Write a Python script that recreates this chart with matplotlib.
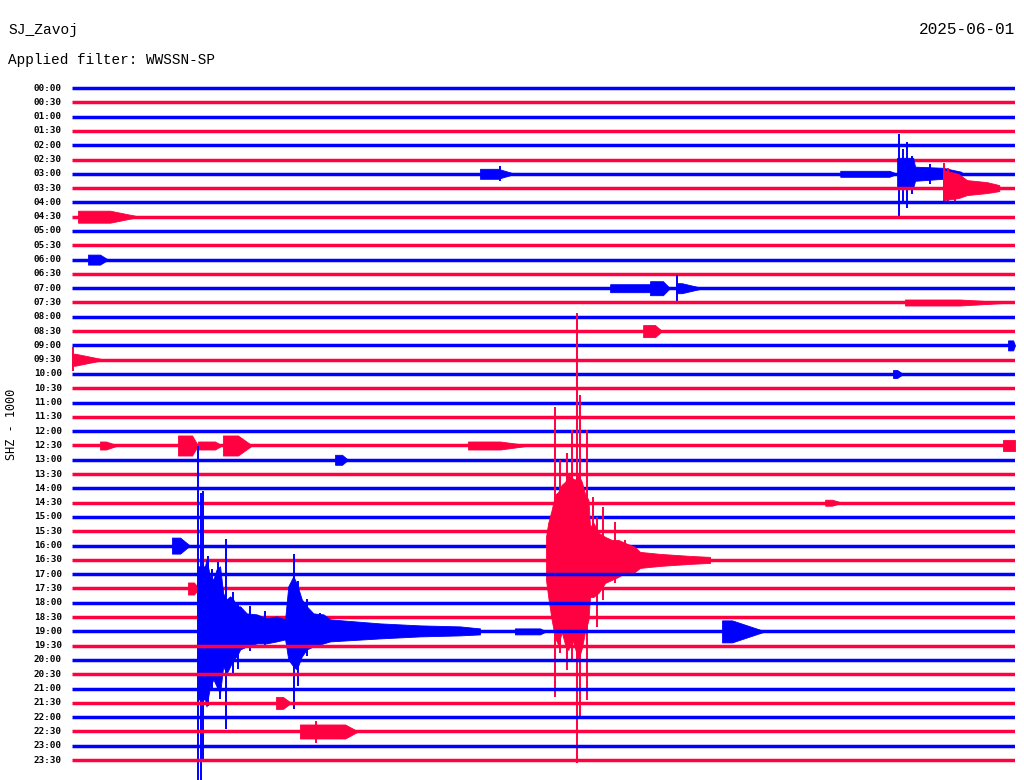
import matplotlib
matplotlib.use("Agg")
import matplotlib.pyplot as plt

# helicorder layout: 48 rows of 30 minutes, row spacing = 1000 counts
row_labels = [f"{h:02d}:{m:02d}" for h in range(24) for m in (0, 30)]
row_colors = ["#0000FF", "#FF0040"]
ROW_SPACING = 1000

station = "SJ_Zavoj"
day = "2025-06-01"
filter_name = "WWSSN-SP"
channel = "SHZ - 1000"

# --- large event on the 19:00 row (minutes, counts above, counts below) ---
blue_row = 38
blue_t = [4.02, 4.23, 4.28, 4.39, 4.50, 4.60, 4.71, 4.81, 4.92, 5.03, 5.13, 5.24, 5.35,
          5.56, 5.88, 6.19, 6.51, 6.78, 6.88, 7.04, 7.15, 7.31, 7.47, 7.68, 8.00, 8.21,
          9.80, 11.07, 12.34, 12.98]
blue_up = [4550, 4550, 5040, 3850, 3640, 4340, 4550, 2660, 2240, 2450, 2240, 1750, 1750,
           1260, 1190, 910, 1050, 840, 3150, 3850, 3360, 2240, 1750, 1260, 1190, 840,
           560, 420, 350, 210]
blue_dn = [4760, 4760, 5250, 3850, 3360, 3850, 4340, 2450, 2940, 2450, 1960, 1750, 1260,
           1050, 840, 840, 700, 560, 1960, 2450, 2660, 1750, 1260, 1050, 840, 700,
           490, 350, 280, 210]

# --- large event on the 16:30 row ---
red_row = 33
red_t = [15.08, 15.15, 15.26, 15.37, 15.47, 15.58, 15.69, 15.79, 15.90, 16.00, 16.11, 16.22,
         16.32, 16.43, 16.48, 16.59, 16.75, 16.96, 17.17, 17.38, 17.59, 17.91, 18.07, 18.71,
         19.66, 20.30]
red_up = [1610, 2590, 3500, 4550, 4760, 5250, 5460, 5950, 5740, 5600, 5950, 5460,
          4620, 4200, 2310, 2590, 1890, 1610, 1400, 1400, 1190, 910, 560, 420,
          280, 210]
red_dn = [1400, 2590, 4200, 5460, 5950, 5040, 5950, 6300, 5460, 6160, 7000, 6160,
          5040, 4200, 2590, 2590, 2310, 1610, 1400, 1190, 910, 840, 560, 420,
          280, 210]

# --- event on the 03:00 row ---
e3_row = 6
e3_t = [26.25, 26.76, 26.82, 27.71, 28.00, 28.30]
e3_up = [1120, 1120, 500, 420, 280, 140]
e3_dn = [980, 980, 490, 350, 280, 140]

# --- event on the 03:30 row ---
e4_row = 7
e4_t = [27.71, 28.20, 28.47, 29.10, 29.50]
e4_up = [1260, 1000, 560, 420, 210]
e4_dn = [840, 700, 490, 350, 210]

# --- single peaks (row, minute, counts above, counts below) ---
spike_row = [38, 38, 38, 38, 38, 38, 38, 38, 38, 38, 38, 38, 38, 38, 38, 38,
             33, 33, 33, 33, 33, 33, 33, 33, 33, 33, 33, 33,
             6, 6, 6, 6, 6, 7, 7, 7, 6, 14, 19, 45]
spike_t = [4.02, 4.10, 4.17, 4.33, 4.45, 4.65, 4.71, 4.90, 5.12, 5.28, 5.66, 6.14, 7.06, 7.19, 7.48, 7.89,
           15.37, 15.53, 15.75, 15.91, 16.07, 16.16, 16.39, 16.58, 16.70, 16.89, 17.28, 17.59,
           26.31, 26.44, 26.58, 26.73, 27.30, 27.74, 27.87, 28.09, 13.62, 19.25, 0.03, 7.76]
spike_up = [12950, 9660, 9800, 5250, 4340, 4830, 4000, 6440, 2730, 2030, 1750, 1400, 5390, 3500, 2240, 1260,
            10710, 7000, 7490, 9100, 17290, 11550, 9100, 4410, 3010, 3710, 2660, 1400,
            2800, 1750, 2240, 1260, 700, 1750, 1400, 1050, 560, 910, 910, 700]
spike_dn = [11200, 10500, 9000, 5250, 4000, 4000, 4760, 6860, 3150, 2660, 1400, 1050, 5460, 3850, 1750, 1050,
            9590, 6510, 7700, 7000, 14210, 10990, 9800, 2590, 4690, 2800, 1610, 1050,
            3010, 1960, 2380, 1400, 700, 1050, 1050, 980, 490, 980, 770, 770]

# --- small events (row, onset min, end of strong part min, end min, amplitude counts) ---
blip_row = [6, 6, 9, 12, 14, 14, 14, 15, 17, 19, 20, 25, 25, 25, 25, 25, 25,
            26, 29, 32, 35, 38, 38, 43, 45, 18]
blip_start = [24.44, 12.98, 0.19, 0.51, 17.12, 18.39, 19.25, 26.50, 18.17, 0.00, 26.12, 0.89, 3.37, 4.01, 4.80, 12.60, 29.62,
              8.37, 23.96, 3.18, 3.69, 14.09, 20.68, 6.49, 7.25, 29.78]
blip_peak = [26.00, 13.55, 1.21, 0.89, 18.39, 18.80, 19.40, 28.25, 18.55, 0.10, 26.25, 1.08, 3.82, 4.55, 5.28, 13.62, 30.00,
             8.59, 24.18, 3.44, 3.88, 14.89, 21.00, 6.71, 8.69, 29.94]
blip_end = [26.25, 14.09, 2.16, 1.15, 18.55, 19.02, 20.08, 29.91, 18.77, 1.05, 26.44, 1.46, 4.01, 4.77, 5.73, 14.57, 30.00,
            8.78, 24.50, 3.75, 4.04, 15.08, 22.05, 6.97, 9.10, 30.00]
blip_amp = [210, 350, 420, 350, 280, 490, 350, 210, 420, 420, 280, 280, 700, 280, 700, 280, 350,
            350, 210, 560, 420, 210, 770, 420, 490, 350]

fig = plt.figure(figsize=(10.24, 7.8), dpi=100)
fig.patch.set_facecolor("white")
ax = fig.add_axes([72 / 1024, 0, 943 / 1024, 1])
ax.set_xlim(0, 30)
ax.set_ylim(-48392, 6154)
ax.axis("off")


def base_of(row):
    return -row * ROW_SPACING


def color_of(row):
    return row_colors[row % 2]


# baselines + hour labels
for i, lab in enumerate(row_labels):
    y0 = base_of(i)
    ax.hlines(y0, 0, 30, color=color_of(i), lw=2.5, zorder=10 + 3 * i)
    ax.text(-0.32, y0, lab, ha="right", va="center", fontsize=6.7,
            family="DejaVu Sans Mono", fontweight="bold", color="black")

# envelopes of the larger events
for row, t, up, dn in [(blue_row, blue_t, blue_up, blue_dn),
                       (red_row, red_t, red_up, red_dn),
                       (e3_row, e3_t, e3_up, e3_dn),
                       (e4_row, e4_t, e4_up, e4_dn)]:
    y0 = base_of(row)
    ax.fill_between(t, [y0 + u for u in up], [y0 - d for d in dn],
                    color=color_of(row), lw=0.6, zorder=11 + 3 * row)

# small events
for row, t0, tp, t1, a in zip(blip_row, blip_start, blip_peak, blip_end, blip_amp):
    y0 = base_of(row)
    ax.fill_between([t0, tp, t1], [y0 + a, y0 + a, y0], [y0 - a, y0 - a, y0],
                    color=color_of(row), lw=0.6, zorder=11 + 3 * row)

# peaks
for row, t, u, d in zip(spike_row, spike_t, spike_up, spike_dn):
    y0 = base_of(row)
    ax.vlines(t, y0 - d, y0 + u, color=color_of(row), lw=1.4, zorder=12 + 3 * row)

# header text
fig.text(8 / 1024, 1 - 30 / 780, station, ha="left", va="center",
         fontsize=10.5, family="Liberation Mono", color="black")
fig.text(1015 / 1024, 1 - 30 / 780, day, ha="right", va="center",
         fontsize=11.6, family="Liberation Mono", color="black")
fig.text(8 / 1024, 1 - 60 / 780, f"Applied filter: {filter_name}", ha="left", va="center",
         fontsize=10.4, family="Liberation Mono", color="black")
fig.text(12 / 1024, 1 - 424 / 780, channel, ha="center", va="center", rotation=90,
         fontsize=8.6, family="DejaVu Sans Mono", color="black")

fig.savefig("out.png", dpi=100, facecolor="white")
